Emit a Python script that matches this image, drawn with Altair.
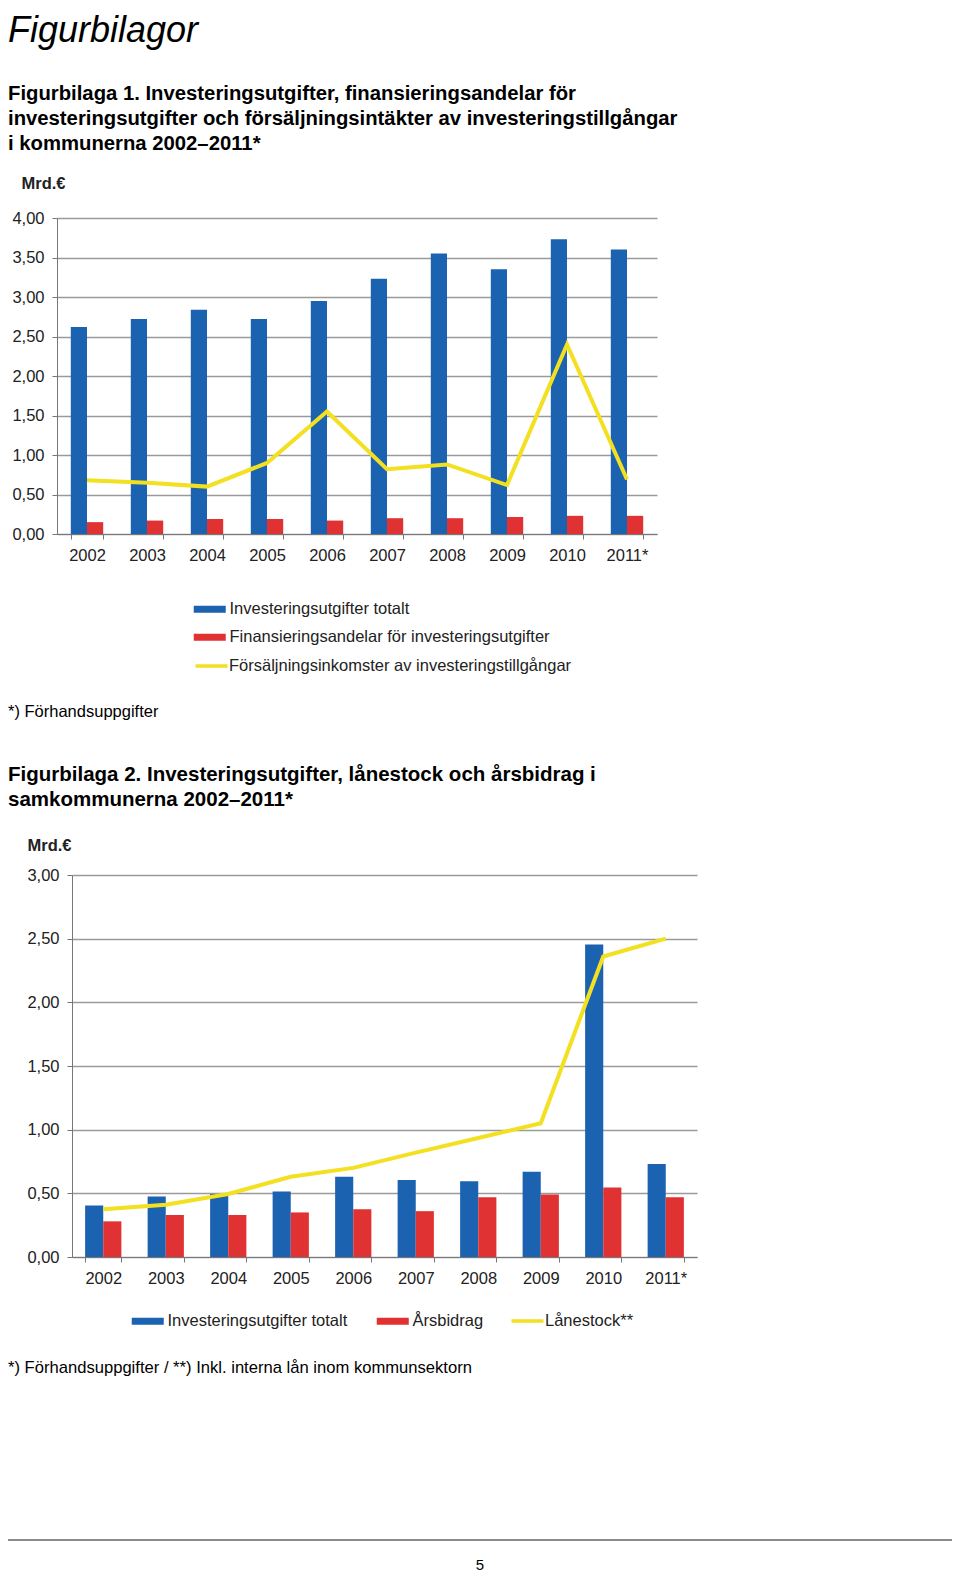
import altair as alt
import pandas as pd

# ---------------- data ----------------
years = ["2002", "2003", "2004", "2005", "2006", "2007", "2008", "2009", "2010", "2011*"]

# Figurbilaga 1
inv1 = [2.62, 2.72, 2.84, 2.72, 2.95, 3.23, 3.55, 3.35, 3.73, 3.60]
fin1 = [0.15, 0.17, 0.19, 0.19, 0.17, 0.20, 0.20, 0.215, 0.23, 0.23]
sale1 = [0.68, 0.65, 0.60, 0.90, 1.55, 0.82, 0.88, 0.62, 2.40, 0.69]

# Figurbilaga 2
inv2 = [0.405, 0.475, 0.495, 0.515, 0.63, 0.605, 0.595, 0.67, 2.455, 0.73]
ars2 = [0.28, 0.33, 0.33, 0.35, 0.375, 0.36, 0.47, 0.49, 0.545, 0.47]
lan2 = [0.375, 0.41, 0.495, 0.63, 0.70, 0.82, 0.935, 1.05, 2.36, 2.50]

ticks1 = [0, 0.5, 1, 1.5, 2, 2.5, 3, 3.5, 4]
ticks2 = [0, 0.5, 1, 1.5, 2, 2.5, 3]

S_INV = "Investeringsutgifter totalt"
S_FIN = "Finansieringsandelar för investeringsutgifter"
S_SALE = "Försäljningsinkomster av investeringstillgångar"
S_ARS = "Årsbidrag"
S_LAN = "Lånestock**"

T_PAGE = "Figurbilagor"
T_TITLE1 = ("Figurbilaga 1. Investeringsutgifter, finansieringsandelar för\n"
            "investeringsutgifter och försäljningsintäkter av investeringstillgångar\n"
            "i kommunerna 2002–2011*")
T_NOTE1 = "*) Förhandsuppgifter"
T_TITLE2 = ("Figurbilaga 2. Investeringsutgifter, lånestock och årsbidrag i\n"
            "samkommunerna 2002–2011*")
T_NOTE2 = "*) Förhandsuppgifter / **) Inkl. interna lån inom kommunsektorn"
T_PAGENO = "5"
Y_TITLE = "Mrd.€"

# ---------------- styles ----------------
BLUE, RED, YELLOW = "#1b63b0", "#e03232", "#f2e021"
GRID = "#9a9a9a"
SANS = "'Liberation Sans', Arial, Helvetica, sans-serif"
RECT_PATH = "M-2,-0.45H2V0.45H-2Z"
LINE_PATH = "M-2,0H2"
W, H = 944, 1564


def legend(x, y, symbol, lo=11.5, stroke_w=0):
    return alt.Legend(orient="none", legendX=x, legendY=y, title=None, symbolType=symbol,
                      symbolSize=256, labelFont=SANS, labelFontSize=16.5, labelColor="#222",
                      labelOffset=lo, padding=0, symbolOpacity=1, labelLimit=600,
                      symbolStrokeWidth=stroke_w)


def bar_panel(a_vals, a_name, b_vals, b_name, l_vals, l_name, ticks, cfg):
    df_a = pd.DataFrame({"year": years, "value": a_vals, "series": a_name})
    df_b = pd.DataFrame({"year": years, "value": b_vals, "series": b_name})
    df_l = pd.DataFrame({"year": years, "value": l_vals, "series": l_name})

    xs = alt.Scale(domain=years, range=cfg["xrange"], paddingInner=cfg["pi"],
                   paddingOuter=cfg["pi"] / 2)
    ys = alt.Scale(domain=[0, ticks[-1]], range=cfg["yrange"], nice=False, zero=True)
    xo = alt.Scale(domain=[a_name, b_name], paddingInner=0, paddingOuter=0)

    xax = alt.Axis(orient="bottom", offset=cfg["xoff"], title=None, labelAngle=0,
                   tickBand="extent", tickSize=5, tickColor="#777", domainColor="#777",
                   labelFont=SANS, labelFontSize=16.5, labelColor="#222",
                   labelPadding=8, grid=False)
    yax = alt.Axis(orient="left", offset=cfg["yoff"], values=ticks,
                   labelExpr="replace(format(datum.value, '.2f'), '.', ',')",
                   labelFont=SANS, labelFontSize=16.5, labelColor="#222", labelPadding=8,
                   tickSize=5, tickColor="#777", domainColor="#777",
                   grid=True, gridColor=GRID, gridWidth=1.3,
                   title=Y_TITLE, titleAngle=0, titleX=cfg["tx"], titleY=cfg["ty"],
                   titleAlign="left", titleBaseline="alphabetic", titleFont=SANS,
                   titleFontSize=16.5, titleFontWeight="bold", titleColor="#222")

    x = alt.X("year:N", scale=xs, axis=xax, sort=years)
    y = alt.Y("value:Q", scale=ys, axis=yax)

    bars_a = alt.Chart(df_a).mark_bar().encode(
        x=x, y=y,
        xOffset=alt.XOffset("series:N", scale=xo),
        color=alt.Color("series:N", scale=alt.Scale(domain=[a_name], range=[BLUE]),
                        legend=legend(*cfg["leg_a"], RECT_PATH)),
    )
    bars_b = alt.Chart(df_b).mark_bar().encode(
        x=x, y=y,
        xOffset=alt.XOffset("series:N", scale=xo),
        color=alt.Color("series:N", scale=alt.Scale(domain=[b_name], range=[RED]),
                        legend=legend(*cfg["leg_b"], RECT_PATH)),
    )
    line = alt.Chart(df_l).mark_line(strokeWidth=4).encode(
        x=x, y=y,
        stroke=alt.Stroke("series:N", scale=alt.Scale(domain=[l_name], range=[YELLOW]),
                          legend=legend(cfg["leg_l"][0], cfg["leg_l"][1], LINE_PATH,
                                        lo=7.5, stroke_w=3.5)),
    )
    return alt.layer(bars_a, bars_b, line).resolve_scale(color="independent")


cfg1 = dict(xrange=[49, 649], yrange=[526, 210], pi=0.46, xoff=526 - H, yoff=-49,
            tx=-36, ty=180,
            leg_a=(193.5, 593), leg_b=(193.5, 621), leg_l=(193.5, 648))
cfg2 = dict(xrange=[64, 689], yrange=[1249, 867], pi=0.42, xoff=1249 - H, yoff=-64,
            tx=-45, ty=842,
            leg_a=(131.5, 1305), leg_b=(376.5, 1305), leg_l=(509.5, 1303))

chart1 = bar_panel(inv1, S_INV, fin1, S_FIN, sale1, S_SALE, ticks1, cfg1)
chart2 = bar_panel(inv2, S_INV, ars2, S_ARS, lan2, S_LAN, ticks2, cfg2)


def text(t, x, y, size, weight="normal", style="normal", align="left"):
    return alt.Chart(pd.DataFrame({"t": [t]})).mark_text(
        align=align, baseline="alphabetic", font=SANS, fontSize=size, fontWeight=weight,
        fontStyle=style, color="#000", lineBreak="\n", lineHeight=25,
    ).encode(text="t:N", x=alt.value(x), y=alt.value(y))


texts = [
    text(T_PAGE, 0, 34, 36, style="italic"),
    text(T_TITLE1, 0, 92, 20.3, weight="bold"),
    text(T_NOTE1, 0, 709, 16.5),
    text(T_TITLE2, 0, 773, 20.5, weight="bold"),
    text(T_NOTE2, 0, 1365, 16.6),
    text(T_PAGENO, 472, 1562, 15, align="center"),
]

rule = alt.Chart(pd.DataFrame({"r": [0]})).mark_rule(color="#8a8a8a", strokeWidth=2).encode(
    x=alt.value(0), x2=alt.value(W), y=alt.value(1532))

chart = alt.layer(chart1, chart2, rule, *texts).resolve_scale(
    x="independent", y="independent", color="independent", stroke="independent",
    xOffset="independent",
).properties(
    width=W, height=H, padding=0, autosize=alt.AutoSizeParams(type="none")
).configure_view(stroke=None)

chart.save("out.html", embed_options={"renderer": "svg", "actions": False})
